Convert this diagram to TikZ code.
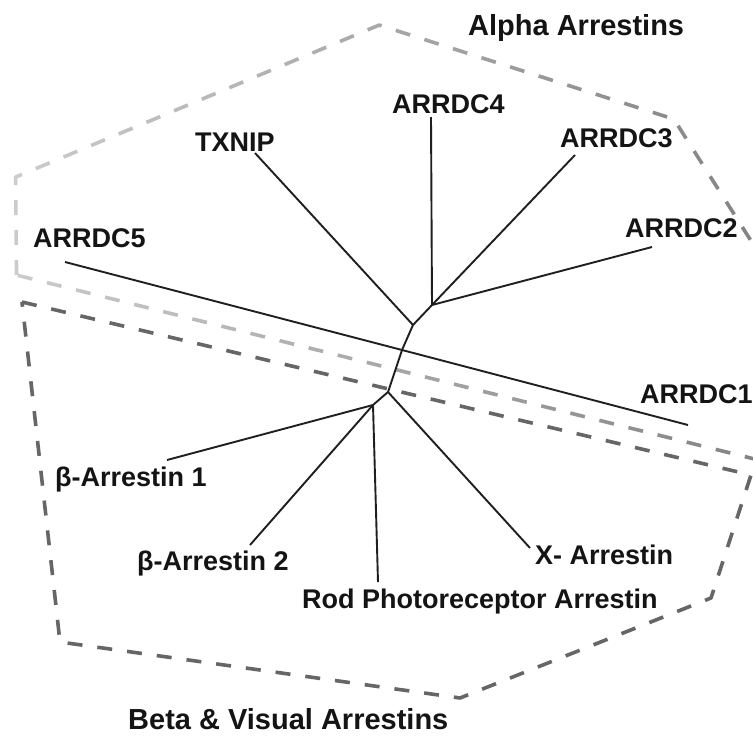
\documentclass[tikz,border=0pt]{standalone}
\usepackage{fontspec}
\setmainfont{Liberation Sans}
\usetikzlibrary{fadings}

% light-to-dark ramp for the alpha clade outline
\tikzfading[name=alpharamp, left color=transparent!62, right color=transparent!4]

\begin{document}
\begin{tikzpicture}[x=1pt,y=-1pt,
  branch/.style={line width=1.9pt, draw=black!88},
  hull/.style={line width=3.6pt, dash pattern=on 15pt off 15pt, line join=round},
  taxon/.style={font=\bfseries\fontsize{27}{27}\selectfont, inner sep=0pt, anchor=base west, text=black!92},
  clade/.style={font=\bfseries\fontsize{29}{29}\selectfont, inner sep=0pt, anchor=base west, text=black!92}]
\useasboundingbox (0,0) rectangle (753,737);
\fill[white] (0,0) rectangle (753,737);

% clade outlines
\begin{scope}
  \clip (0,0) rectangle (753,737);
  \draw[hull, draw=black!52, path fading=alpharamp, fit fading=true]
    (17,275) -- (16,177) -- (380,25) -- (675,119) -- (800,316) -- (800,470) -- cycle;
  \draw[hull, draw=black!60]
    (22,302) -- (751,475) -- (711,598) -- (460,698) -- (60,642) -- cycle;
\end{scope}

% internal nodes of the tree
\coordinate (nA) at (432,305);
\coordinate (nT) at (413,325);
\coordinate (nM) at (402,350);
\coordinate (nX) at (388,392);
\coordinate (nB) at (373,405);

% branch tips
\coordinate (tA4) at (431,117);
\coordinate (tA3) at (575,155);
\coordinate (tA2) at (652,247);
\coordinate (tTX) at (255,153);
\coordinate (tA5) at (65,262);
\coordinate (tA1) at (688,425);
\coordinate (tX) at (530,548);
\coordinate (tB1) at (167,460);
\coordinate (tB2) at (250,545);
\coordinate (tRod) at (378,582);

% branches
\draw[branch] (nA) -- (tA4);
\draw[branch] (nA) -- (tA3);
\draw[branch] (nA) -- (tA2);
\draw[branch] (nA) -- (nT) -- (nM) -- (nX) -- (nB);
\draw[branch] (nT) -- (tTX);
\draw[branch] (tA5) -- (nM) -- (tA1);
\draw[branch] (nX) -- (tX);
\draw[branch] (nB) -- (tB1);
\draw[branch] (nB) -- (tB2);
\draw[branch] (nB) -- (tRod);

% taxon labels
\node[taxon] (lA4) at (392,113) {ARRDC4};
\node[taxon] (lTX) at (195,151) {TXNIP};
\node[taxon] (lA3) at (560,147) {ARRDC3};
\node[taxon] (lA2) at (625,237) {ARRDC2};
\node[taxon] (lA5) at (33,247) {ARRDC5};
\node[taxon] (lA1) at (640,403) {ARRDC1};
\node[taxon] (lB1) at (55,486) {β-Arrestin 1};
\node[taxon] (lB2) at (137,570) {β-Arrestin 2};
\node[taxon] (lX) at (535,564) {X- Arrestin};
\node[taxon] (lRod) at (302,608) {Rod Photoreceptor Arrestin};

% clade titles
\node[clade] (cAlpha) at (468,35) {Alpha Arrestins};
\node[clade] (cBeta) at (128,729) {Beta \& Visual Arrestins};
\end{tikzpicture}
\end{document}
